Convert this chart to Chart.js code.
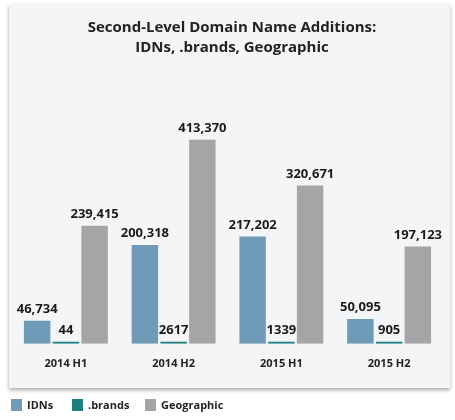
<!DOCTYPE html>
<html>
<head>
<script src="https://cdn.jsdelivr.net/npm/chart.js@4"></script>
<style>
  html, body { margin: 0; background: #fff; }
  #wrap { width: 455px; height: 420px; }
</style>
</head>
<body>
<div id="wrap"><canvas id="c"></canvas></div>
<script>
const periods = ['2014 H1', '2014 H2', '2015 H1', '2015 H2'];
const idns = [46734, 200318, 217202, 50095];
const brands = [44, 2617, 1339, 905];
const geographic = [239415, 413370, 320671, 197123];
const titleLines = ['Second-Level Domain Name Additions:', 'IDNs, .brands, Geographic'];

const FONT = "'Open Sans', 'DejaVu Sans', sans-serif";

// panel background, title, legend and bar values
const decor = {
  id: 'decor',
  beforeDraw(chart) {
    const ctx = chart.ctx;
    ctx.save();
    ctx.fillStyle = '#fff';
    ctx.fillRect(0, 0, chart.width, chart.height);
    ctx.shadowColor = 'rgba(0,0,0,0.35)';
    ctx.shadowBlur = 4;
    ctx.shadowOffsetY = 2;
    ctx.fillStyle = '#f4f5f6';
    ctx.fillRect(9, 4, 441, 384);
    ctx.restore();
    ctx.save();
    ctx.fillStyle = '#222';
    ctx.font = 'bold 15px ' + FONT;
    ctx.textAlign = 'center';
    ctx.fillText(titleLines[0], 232, 32);
    ctx.fillText(titleLines[1], 232, 52);
    // legend
    ctx.font = 'bold 11px ' + FONT;
    ctx.textBaseline = 'middle';
    ctx.textAlign = 'left';
    const xs = [11, 72, 145];
    chart.data.datasets.forEach((ds, i) => {
      ctx.fillStyle = ds.backgroundColor;
      ctx.fillRect(xs[i], 399, 11, 12);
      ctx.fillStyle = '#222';
      ctx.fillText(ds.label, xs[i] + 16, 406);
    });
    ctx.restore();
  },
  afterDatasetsDraw(chart) {
    const ctx = chart.ctx;
    ctx.save();
    ctx.fillStyle = '#1a1a1a';
    ctx.font = 'bold 13px ' + FONT;
    ctx.textAlign = 'center';
    ctx.textBaseline = 'bottom';
    chart.data.datasets.forEach((ds, i) => {
      chart.getDatasetMeta(i).data.forEach((bar, j) => {
        const v = ds.data[j];
        const txt = v >= 10000 ? v.toLocaleString('en-US') : String(v);
        ctx.fillText(txt, bar.x, bar.y - 5);
      });
    });
    ctx.restore();
  }
};

new Chart(document.getElementById('c'), {
  type: 'bar',
  data: {
    labels: periods,
    datasets: [
      { label: 'IDNs', data: idns, backgroundColor: '#6f9bb9' },
      { label: '.brands', data: brands, backgroundColor: '#1f7f80', minBarLength: 2 },
      { label: 'Geographic', data: geographic, backgroundColor: '#a5a5a7' }
    ]
  },
  options: {
    responsive: true,
    maintainAspectRatio: false,
    animation: false,
    layout: { padding: { top: 100, left: 12, right: 12, bottom: 45 } },
    categoryPercentage: 0.8,
    barPercentage: 0.92,
    plugins: {
      title: { display: false },
      tooltip: { enabled: false },
      legend: { display: false }
    },
    scales: {
      x: {
        grid: { display: false }, border: { display: false },
        ticks: { color: '#222', padding: 5, font: { family: FONT, size: 11, weight: 'bold' } }
      },
      y: { display: false, min: 0, max: 494000 }
    }
  },
  plugins: [decor]
});
</script>
</body>
</html>
